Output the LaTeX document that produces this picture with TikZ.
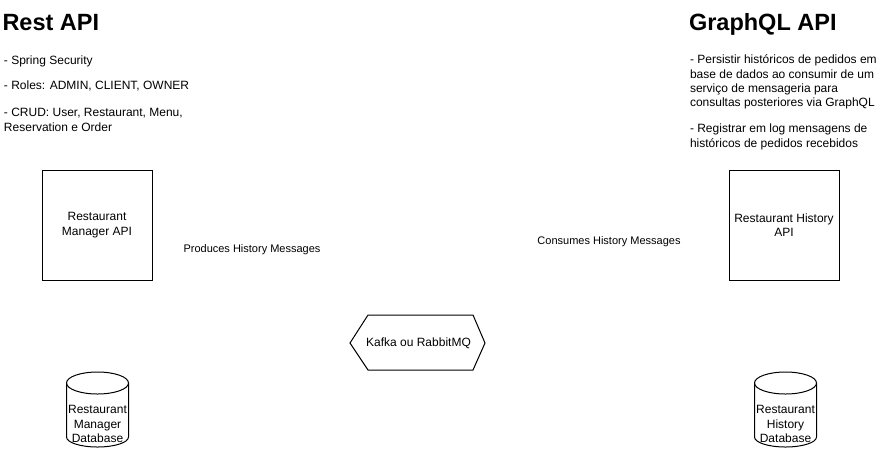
\documentclass[tikz,border=0pt]{standalone}
\usepackage{fontspec}
\setmainfont{Liberation Sans}
\begin{document}
\begin{tikzpicture}[x=1pt,y=-1pt,
  every node/.style={inner sep=0pt, outer sep=0pt},
  title/.style={font=\fontsize{23.5}{28}\selectfont\bfseries, anchor=base west},
  note/.style={font=\fontsize{12}{14.4}\selectfont, anchor=north west, align=left,
    execute at begin node=\strut},
  apibox/.style={draw, line width=1pt, fill=white, minimum width=110pt, minimum height=110pt,
    font=\fontsize{12}{14.4}\selectfont, align=center},
  caption/.style={font=\fontsize{11}{13}\selectfont},
  label/.style={font=\fontsize{12}{14.4}\selectfont, align=center},
  outline/.style={draw, line width=1pt, line join=miter, fill=white}]
\useasboundingbox (0,0) rectangle (882,451);
\fill[white] (0,0) rectangle (882,451);

% Section headings
\node[title] (restTitle) at (2.5,30) {Rest API};
\node[title] (gqlTitle) at (689,30) {GraphQL API};

% Notes under each heading
\node[note] (restA) at (4,54.9) {- Spring Security};
\node[note] (restB) at (4,79.9) {- Roles: ADMIN, CLIENT, OWNER};
\node[note] (restC) at (4,108.4) {- CRUD: User, Restaurant, Menu,\\Reservation e Order};
\node[note] (gqlA) at (690,54.9) {- Persistir históricos de pedidos em\\base de dados ao consumir de um\\serviço de mensageria para\\consultas posteriores via GraphQL};
\node[note] (gqlB) at (690,123.9) {- Registrar em log mensagens de\\históricos de pedidos recebidos};

% Services
\node[apibox] (manager) at (97,225) {Restaurant\\Manager API};
\node[apibox] (history) at (784,225) {Restaurant History\\API};

% Message captions
\node[caption] (produces) at (252,250) {Produces History Messages};
\node[caption] (consumes) at (609,242) {Consumes History Messages};

% Message broker (hexagon)
\draw[outline] (350,343) -- (368,315) -- (473,315) -- (485,343) -- (473,370) -- (368,370) -- cycle;
\node[label] (broker) at (418.5,343) {Kafka ou RabbitMQ};

% Databases (cylinders); y grows downwards, so angle 90 points down
\foreach \cx in {97.5, 785.5}{
  \draw[outline] (\cx-31,383) -- (\cx-31,437) arc[start angle=180, end angle=0, x radius=31, y radius=10]
    -- (\cx+31,383) arc[start angle=0, end angle=-180, x radius=31, y radius=11] -- cycle;
  \draw[line width=1pt] (\cx-31,383) arc[start angle=180, end angle=0, x radius=31, y radius=11];
}
\node[label] (managerDb) at (97.5,424) {Restaurant\\Manager\\Database};
\node[label] (historyDb) at (785.5,424) {Restaurant\\History\\Database};
\end{tikzpicture}
\end{document}
